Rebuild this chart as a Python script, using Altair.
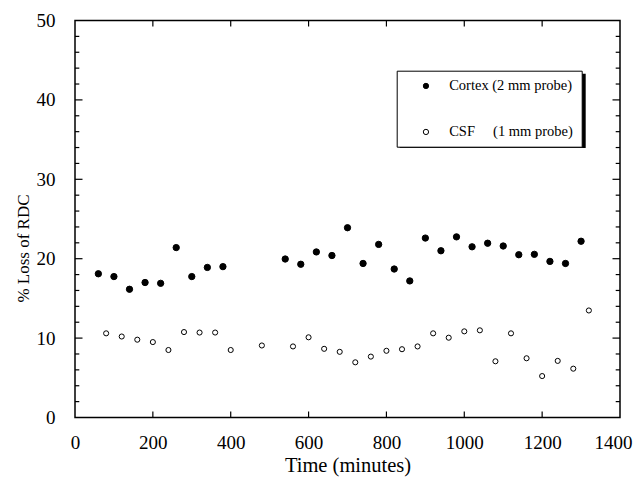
import altair as alt
import pandas as pd

# ---- data ----
cortex_time = [60, 100, 140, 180, 220, 260, 300, 340, 380,
               540, 580, 620, 660, 700, 740, 780, 820, 860, 900, 940,
               980, 1020, 1060, 1100, 1140, 1180, 1220, 1260, 1300]
cortex_loss = [18.1, 17.75, 16.15, 17.0, 16.9, 21.4, 17.75, 18.9, 19.0,
               19.96, 19.3, 20.85, 20.4, 23.9, 19.4, 21.8, 18.7, 17.2, 22.6, 21.0,
               22.75, 21.5, 21.95, 21.6, 20.5, 20.55, 19.66, 19.4, 22.2]

csf_time = [80, 120, 160, 200, 240, 280, 320, 360, 400, 480,
            560, 600, 640, 680, 720, 760, 800, 840, 880, 920, 960,
            1000, 1040, 1080, 1120, 1160, 1200, 1240, 1280, 1320]
csf_loss = [10.6, 10.2, 9.8, 9.5, 8.5, 10.76, 10.7, 10.7, 8.5, 9.07,
            8.95, 10.1, 8.65, 8.27, 6.95, 7.67, 8.4, 8.6, 8.95, 10.6, 10.05,
            10.85, 10.98, 7.08, 10.6, 7.46, 5.22, 7.13, 6.15, 13.48]

series_names = ["Cortex (2 mm probe)", "CSF\u00a0\u00a0\u00a0\u00a0\u00a0(1 mm probe)"]

x_tick_labels = [0, 200, 400, 600, 800, 1000, 1200, 1400]
y_tick_labels = [0, 10, 20, 30, 40, 50]
x_inner_ticks = [200, 400, 600, 800, 1000, 1200]
y_major_inner = [10, 20, 30, 40]
y_minor_inner = [v for v in range(2, 50, 2) if v % 10 != 0]

W, H = 545, 397
FONT = "Liberation Serif"

xs = alt.Scale(domain=[0, 1400], nice=False, zero=False)
ys = alt.Scale(domain=[0, 50], nice=False, zero=False)

xaxis = alt.Axis(values=x_tick_labels, format="d", title="Time (minutes)", ticks=False, domain=False,
                 grid=False, labelFlush=False, labelOverlap=False, labelPadding=16,
                 labelOffset={"condition": {"test": "datum.value == 1400", "value": -7}, "value": 0},
                 labelFont=FONT, labelFontSize=19, labelColor="black",
                 titleFont=FONT, titleFontSize=20.5, titleFontWeight="normal", titleColor="black",
                 titleX=272.5, titleY=48, titleBaseline="middle", titleAlign="center")
yaxis = alt.Axis(values=y_tick_labels, format="d", title="% Loss of RDC", ticks=False, domain=False,
                 grid=False, labelOverlap=False, labelPadding=20,
                 labelFont=FONT, labelFontSize=19, labelColor="black",
                 titleFont=FONT, titleFontSize=17, titleFontWeight="normal", titleColor="black",
                 titleAngle=270, titleX=-52, titleY=227.5, titleBaseline="middle", titleAlign="center")

fill_scale = alt.Scale(domain=series_names, range=["black", "white"])
legend = alt.Legend(title=None, orient="none", legendX=321.7, legendY=50.2,
                    strokeColor="black", fillColor="white", padding=8, rowPadding=31,
                    symbolType="circle", symbolSize=28, symbolStrokeColor="black",
                    symbolStrokeWidth=1, symbolOffset=14, labelOffset=16,
                    labelFont=FONT, labelFontSize=14.5, labelColor="black", labelLimit=400)

df_c = pd.DataFrame({"time": cortex_time, "loss": cortex_loss, "series": series_names[0]})
df_s = pd.DataFrame({"time": csf_time, "loss": csf_loss, "series": series_names[1]})

X = alt.X("time:Q", scale=xs, axis=xaxis)
Y = alt.Y("loss:Q", scale=ys, axis=yaxis)
F = alt.Fill("series:N", scale=fill_scale, legend=legend)

shadow = alt.Chart(pd.DataFrame({"a": [0]})).mark_rect(color="black").encode(
    x=alt.value(324.7), x2=alt.value(510.7), y=alt.value(53.2), y2=alt.value(127.5))

cortex = alt.Chart(df_c).mark_point(shape="circle", filled=True, size=40, stroke="black",
                                    strokeWidth=1, opacity=1).encode(x=X, y=Y, fill=F)
csf = alt.Chart(df_s).mark_point(shape="circle", filled=True, size=26, stroke="black",
                                 strokeWidth=1, opacity=1).encode(x=X, y=Y, fill=F)

df_ymaj = pd.DataFrame({"loss": y_major_inner})
df_ymin = pd.DataFrame({"loss": y_minor_inner})
df_x = pd.DataFrame({"time": x_inner_ticks})

rule_kw = dict(color="black", strokeWidth=1.2)
left_major = alt.Chart(df_ymaj).mark_rule(**rule_kw).encode(y=Y, x=alt.value(0), x2=alt.value(7.5))
left_minor = alt.Chart(df_ymin).mark_rule(**rule_kw).encode(y=Y, x=alt.value(0), x2=alt.value(4.3))
right_major = alt.Chart(df_ymaj).mark_rule(**rule_kw).encode(y=Y, x=alt.value(W), x2=alt.value(W - 7.5))
right_minor = alt.Chart(df_ymin).mark_rule(**rule_kw).encode(y=Y, x=alt.value(W), x2=alt.value(W - 4.3))
bottom_t = alt.Chart(df_x).mark_rule(**rule_kw).encode(x=X, y=alt.value(H), y2=alt.value(H - 6))
top_t = alt.Chart(df_x).mark_rule(**rule_kw).encode(x=X, y=alt.value(0), y2=alt.value(6))

chart = alt.layer(shadow, left_major, left_minor, right_major, right_minor, bottom_t, top_t,
                  cortex, csf).properties(
    width=W, height=H,
    autosize=alt.AutoSizeParams(type="none"),
    padding={"left": 67, "top": 12.5, "right": 13, "bottom": 59.5},
    background="white",
).configure_view(stroke="black", strokeWidth=1.5)

chart.save("out.html", embed_options={"renderer": "svg", "actions": False})
